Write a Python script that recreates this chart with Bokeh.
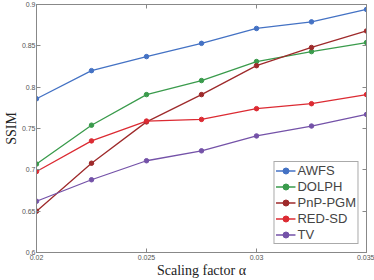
from bokeh.plotting import figure
from bokeh.models import FixedTicker, LinearAxis, Range1d, Legend, LegendItem
from bokeh.embed import file_html
from bokeh.resources import INLINE

alpha = [0.02, 0.0225, 0.025, 0.0275, 0.03, 0.0325, 0.035]
awfs = [0.786, 0.820, 0.837, 0.853, 0.871, 0.879, 0.894]
dolph = [0.707, 0.754, 0.791, 0.808, 0.831, 0.843, 0.854]
pnp = [0.650, 0.708, 0.758, 0.791, 0.826, 0.848, 0.868]
redsd = [0.698, 0.735, 0.759, 0.761, 0.774, 0.780, 0.791]
tv = [0.662, 0.688, 0.711, 0.723, 0.741, 0.753, 0.767]

names = ["AWFS", "DOLPH", "PnP-PGM", "RED-SD", "TV"]
series = [awfs, dolph, pnp, redsd, tv]
colors = ["#4472c4", "#3a9b4c", "#9e2a2b", "#dc2b33", "#7452a8"]

xticks = [0.02, 0.025, 0.03, 0.035]
xlabels = ["0.02", "0.025", "0.03", "0.035"]
yticks = [0.6, 0.65, 0.7, 0.75, 0.8, 0.85, 0.9]
ylabels = ["0.6", "0.65", "0.7", "0.75", "0.8", "0.85", "0.9"]

p = figure(width=374, height=280, output_backend="svg", toolbar_location=None,
           x_range=Range1d(0.02, 0.035), y_range=Range1d(0.6, 0.9),
           min_border_left=0, min_border_right=8, min_border_top=4, min_border_bottom=0)
p.grid.visible = False
p.outline_line_color = "#888888"
p.outline_line_width = 1

for ax, ticks, labels in ((p.xaxis[0], xticks, xlabels), (p.yaxis[0], yticks, ylabels)):
    ax.ticker = FixedTicker(ticks=ticks)
    ax.major_label_overrides = {t: l for t, l in zip(ticks, labels)}
    ax.minor_tick_line_color = None
    ax.major_tick_in = 4
    ax.major_tick_out = 0
    ax.axis_line_color = "#888888"
    ax.major_tick_line_color = "#888888"
    ax.major_label_text_font = "Liberation Sans"
    ax.major_label_text_font_size = "7px"
    ax.major_label_text_color = "#555555"
    ax.major_label_standoff = 2
    ax.axis_label_text_font = "Liberation Serif"
    ax.axis_label_text_font_style = "normal"
    ax.axis_label_text_font_size = "14px"
    ax.axis_label_text_color = "#222222"
    ax.axis_label_standoff = 0

p.yaxis.major_label_standoff = 1
p.xaxis.axis_label = "Scaling factor α"
p.yaxis.axis_label = "SSIM"

for loc, ticks in (("right", yticks), ("above", xticks)):
    a = LinearAxis(ticker=FixedTicker(ticks=ticks), major_label_text_color=None,
                   major_tick_in=4, major_tick_out=0, minor_tick_line_color=None,
                   axis_line_color="#888888", major_tick_line_color="#888888",
                   major_label_standoff=0)
    p.add_layout(a, loc)

items = []
for name, ys, c in zip(names, series, colors):
    r1 = p.line(alpha, ys, line_color=c, line_width=1.3)
    r2 = p.scatter(alpha, ys, size=4.5, fill_color=c, line_color=c)
    items.append(LegendItem(label=name, renderers=[r1, r2]))

leg = Legend(items=items, location="bottom_right", label_text_font="Liberation Sans",
             label_text_font_size="13px", label_height=15, glyph_height=15, glyph_width=20,
             spacing=1, padding=1, margin=8, border_line_color="#555555",
             label_standoff=2, background_fill_alpha=1)
p.add_layout(leg)

open("out.html", "w").write(file_html(p, INLINE))
